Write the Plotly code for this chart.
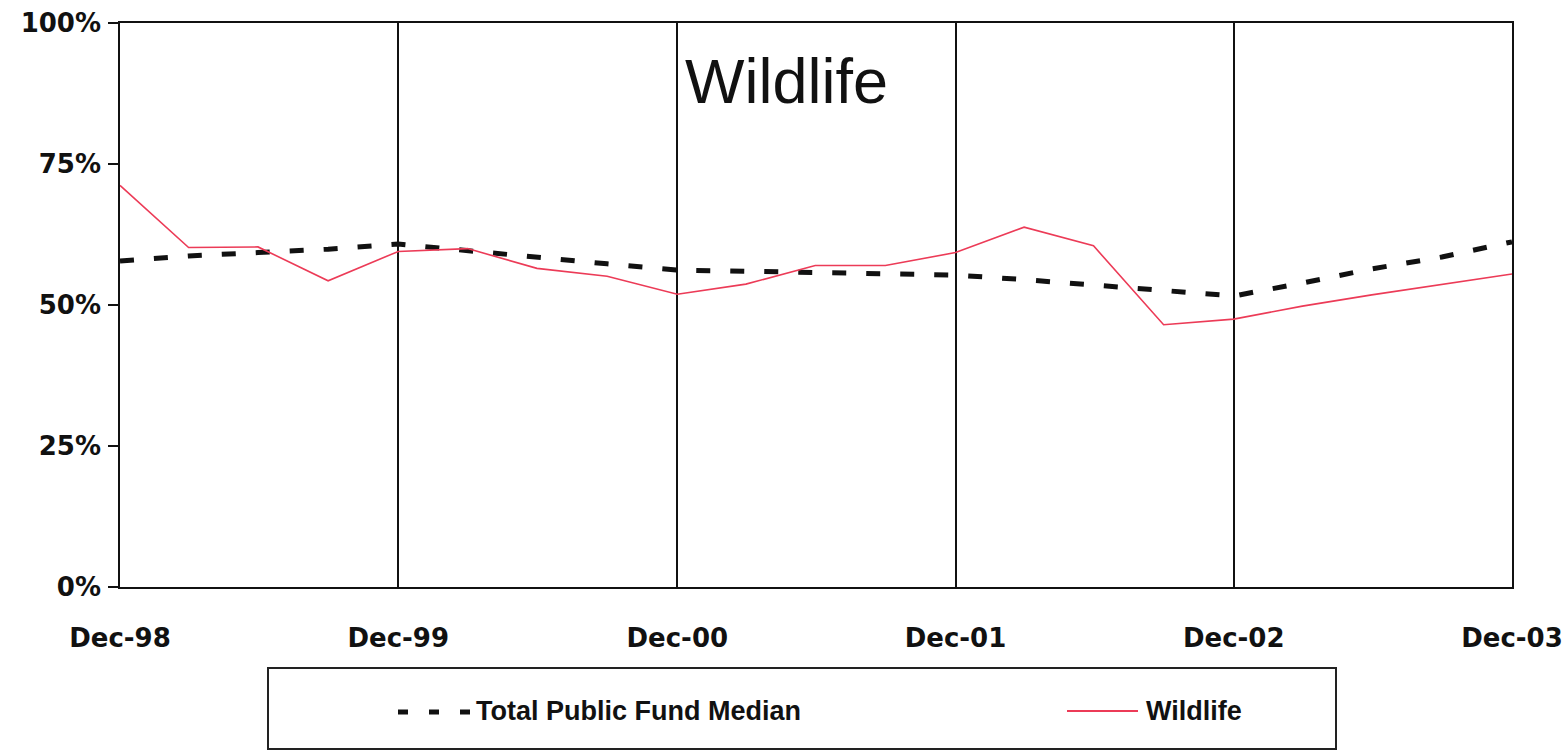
import plotly.graph_objects as go

# Quarter-end dates, Dec-98 through Dec-03
quarters = [
    "1998-12-31", "1999-03-31", "1999-06-30", "1999-09-30",
    "1999-12-31", "2000-03-31", "2000-06-30", "2000-09-30",
    "2000-12-31", "2001-03-31", "2001-06-30", "2001-09-30",
    "2001-12-31", "2002-03-31", "2002-06-30", "2002-09-30",
    "2002-12-31", "2003-03-31", "2003-06-30", "2003-09-30",
    "2003-12-31",
]

# Equity allocation (%)
median_name = "Total Public Fund Median"
median_values = [57.8, 58.7, 59.3, 59.9, 60.8, 59.6, 58.4, 57.3, 56.2, 56.0,
                 55.7, 55.7, 55.3, 54.5, 53.5, 52.7, 51.6, 53.9, 56.4, 58.5,
                 61.2]

fund_name = "Wildlife"
fund_values = [71.2, 60.2, 60.3, 54.3, 59.5, 60.0, 56.5, 55.1, 51.9, 53.7,
               57.0, 57.0, 59.3, 63.8, 60.5, 46.5, 47.5, 49.8, 51.8, 53.7,
               55.5]

year_ticks = ["1998-12-31", "1999-12-31", "2000-12-31", "2001-12-31",
              "2002-12-31", "2003-12-31"]
year_labels = ["Dec-98", "Dec-99", "Dec-00", "Dec-01", "Dec-02", "Dec-03"]

pct_ticks = [0, 25, 50, 75, 100]
pct_labels = ["0%", "25%", "50%", "75%", "100%"]

RED = "#ec3b57"
BLACK = "#111111"

fig = go.Figure()
fig.add_trace(go.Scatter(
    x=quarters, y=median_values, name=median_name, mode="lines",
    line=dict(color=BLACK, width=5, dash="14px,20px"),
))
fig.add_trace(go.Scatter(
    x=quarters, y=fund_values, name=fund_name, mode="lines",
    line=dict(color=RED, width=1.6),
))

tick_font = dict(family="DejaVu Sans", size=26, color="#111111", weight="bold")

fig.update_layout(
    width=1568, height=752,
    margin=dict(l=120, r=56, t=23, b=165),
    paper_bgcolor="white", plot_bgcolor="white",
    showlegend=False,
    font=dict(family="Liberation Sans, Arial, sans-serif", color="#111111"),
    xaxis=dict(
        type="date", range=[quarters[0], quarters[-1]],
        tickvals=year_ticks, ticktext=year_labels,
        tickfont=dict(**tick_font), ticklabelstandoff=27,
        showgrid=True, gridcolor=BLACK, gridwidth=1.5,
        showline=True, linecolor=BLACK, linewidth=1.6, mirror=True,
        ticks="", zeroline=False, automargin=False,
    ),
    yaxis=dict(
        range=[0, 100], tickvals=pct_ticks, ticktext=pct_labels,
        tickfont=dict(**tick_font), ticks="outside", ticklen=10,
        tickcolor=BLACK, tickwidth=1.6, ticklabelstandoff=2,
        showgrid=False, zeroline=False, automargin=False,
        showline=True, linecolor=BLACK, linewidth=1.6, mirror=True,
    ),
)

# Chart title inside the plotting area
fig.add_annotation(
    text=fund_name, xref="paper", yref="paper", x=0.479, y=0.898,
    xanchor="center", yanchor="middle", showarrow=False,
    font=dict(family="Liberation Sans, Arial", size=63, color="#111111"),
)

# Legend box drawn below the axis
def px_x(p):
    return (p - 120) / 1392


def px_y(p):
    return (587 - p) / 564


fig.add_shape(type="rect", xref="paper", yref="paper",
              x0=px_x(268), x1=px_x(1336), y0=px_y(749), y1=px_y(668),
              line=dict(color="#222222", width=2), fillcolor="white")
fig.add_shape(type="line", xref="paper", yref="paper",
              x0=px_x(398), x1=px_x(471), y0=px_y(712), y1=px_y(712),
              line=dict(color=BLACK, width=5, dash="10px,21px"))
fig.add_shape(type="line", xref="paper", yref="paper",
              x0=px_x(1067), x1=px_x(1138), y0=px_y(711), y1=px_y(711),
              line=dict(color=RED, width=2))
legend_font = dict(family="Liberation Sans, Arial", size=27, color="#111111",
                   weight="bold")
fig.add_annotation(text=median_name, xref="paper", yref="paper",
                   x=px_x(474), y=px_y(711), xanchor="left", yanchor="middle",
                   showarrow=False, font=legend_font)
fig.add_annotation(text=fund_name, xref="paper", yref="paper",
                   x=px_x(1144), y=px_y(711), xanchor="left", yanchor="middle",
                   showarrow=False, font=legend_font)

fig.write_html("out.html")
